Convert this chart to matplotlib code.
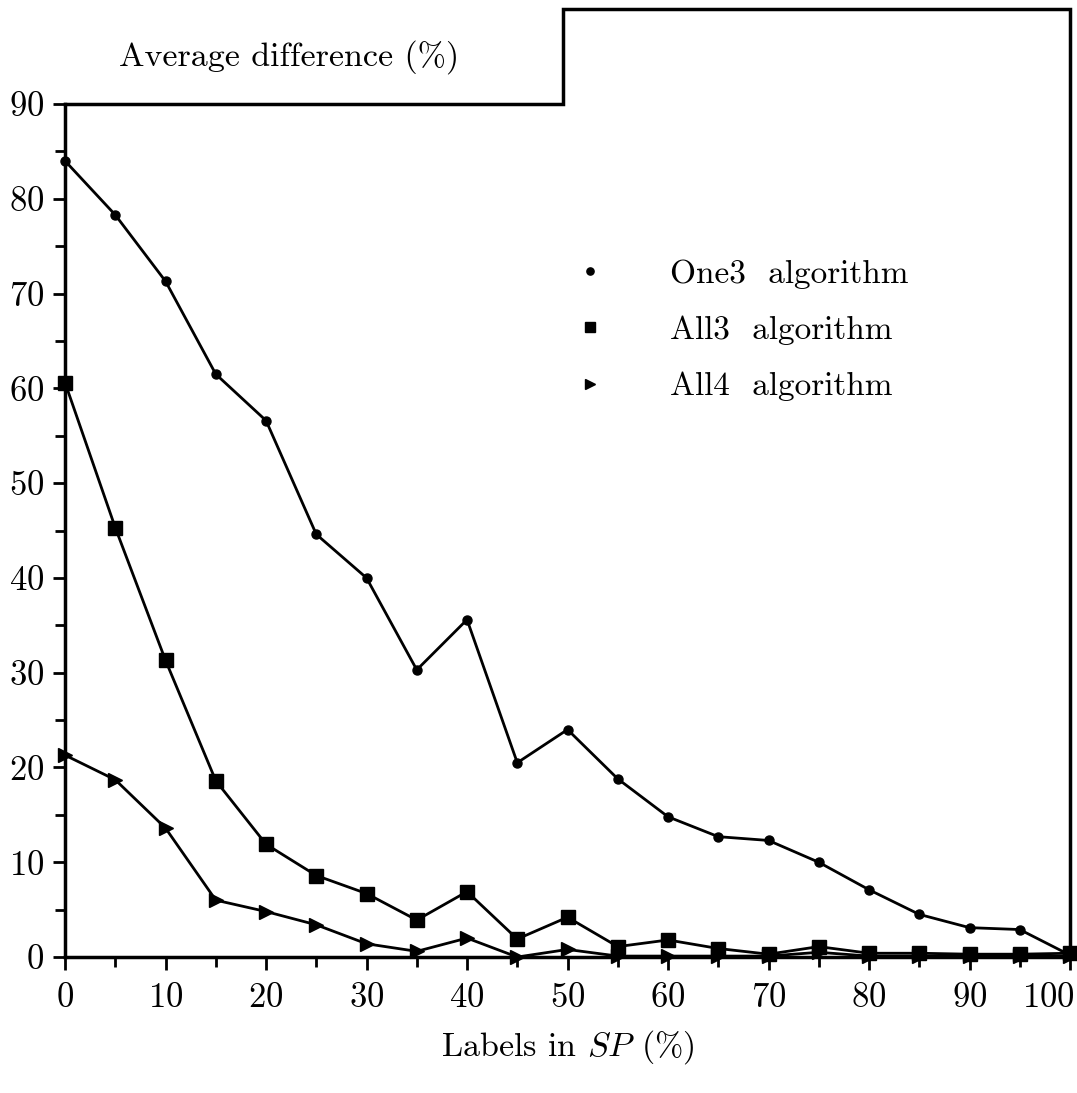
import matplotlib
matplotlib.use("Agg")
import matplotlib.pyplot as plt
import matplotlib.transforms as mtransforms
from matplotlib.ticker import MultipleLocator

plt.rcParams['font.family'] = ['cmr10', 'DejaVu Serif']
plt.rcParams['mathtext.fontset'] = 'cm'
plt.rcParams['axes.formatter.use_mathtext'] = True

labels_sp = [0, 5, 10, 15, 20, 25, 30, 35, 40, 45, 50, 55, 60, 65, 70, 75, 80, 85, 90, 95, 100]
one3 = [84.0, 78.3, 71.3, 61.5, 56.6, 44.6, 40.0, 30.3, 35.6, 20.5, 24.0, 18.8, 14.8, 12.7, 12.3, 10.0, 7.1, 4.5, 3.1, 2.9, 0.2]
all3 = [60.6, 45.3, 31.3, 18.6, 11.9, 8.6, 6.7, 3.9, 6.9, 1.9, 4.2, 1.1, 1.8, 0.9, 0.3, 1.1, 0.4, 0.4, 0.3, 0.3, 0.4]
all4 = [21.3, 18.7, 13.6, 6.0, 4.8, 3.4, 1.4, 0.6, 2.0, 0.0, 0.8, 0.1, 0.1, 0.1, 0.1, 0.5, 0.1, 0.1, 0.1, 0.1, 0.1]
x_ticks = [0, 10, 20, 30, 40, 50, 60, 70, 80, 90, 100]
y_ticks = [0, 10, 20, 30, 40, 50, 60, 70, 80, 90]

# odd stepped frame around the plot
frame_x = [0, 49.5, 49.5, 100, 100]
frame_y = [90, 90, 100, 100, 0]

fig = plt.figure(figsize=(10.77, 10.93), dpi=100)
ax = fig.add_axes([0.0604, 0.1244, 0.9331, 0.7804])

ax.plot(labels_sp, one3, color='black', lw=2.0, marker='o', ms=6.5, label='One3  algorithm', clip_on=False, zorder=3)
ax.plot(labels_sp, all3, color='black', lw=2.0, marker='s', ms=9.5, label='All3  algorithm', clip_on=False, zorder=3)
ax.plot(labels_sp, all4, color='black', lw=2.0, marker='>', ms=9.5, label='All4  algorithm', clip_on=False, zorder=3)

ax.plot(frame_x, frame_y, color='black', lw=2.5, clip_on=False, solid_joinstyle='miter')

ax.set_xlim(0, 100)
ax.set_ylim(0, 90)
for s in ['top', 'right']:
    ax.spines[s].set_visible(False)
for s in ['left', 'bottom']:
    ax.spines[s].set_linewidth(2.5)

ax.set_xticks(x_ticks)
ax.set_yticks(y_ticks)
ax.xaxis.set_minor_locator(MultipleLocator(5))
ax.yaxis.set_minor_locator(MultipleLocator(5))
ax.tick_params(which='major', direction='out', length=9, width=2, labelsize=25)
ax.tick_params(which='minor', direction='out', length=7, width=2)
ax.tick_params(axis='x', which='major', pad=9)
ax.tick_params(axis='y', which='major', pad=6)

last = ax.get_xticklabels()[-1]
last.set_horizontalalignment('right')
last.set_transform(last.get_transform() + mtransforms.ScaledTranslation(5 / 100, 0, fig.dpi_scale_trans))

ax.text(22.3, 95, 'Average difference (%)', fontsize=24.5, ha='center', va='center')
ax.set_xlabel(r'Labels in $SP$ (%)', fontsize=24.5, labelpad=10)

leg = ax.legend(loc='upper left', bbox_to_anchor=(0.483, 0.853), frameon=False, fontsize=24,
                handlelength=0.6, handletextpad=2.1, labelspacing=0.8, markerscale=0.8)
for h in leg.legend_handles:
    h.set_linestyle('none')

fig.savefig('out.png', dpi=100)
